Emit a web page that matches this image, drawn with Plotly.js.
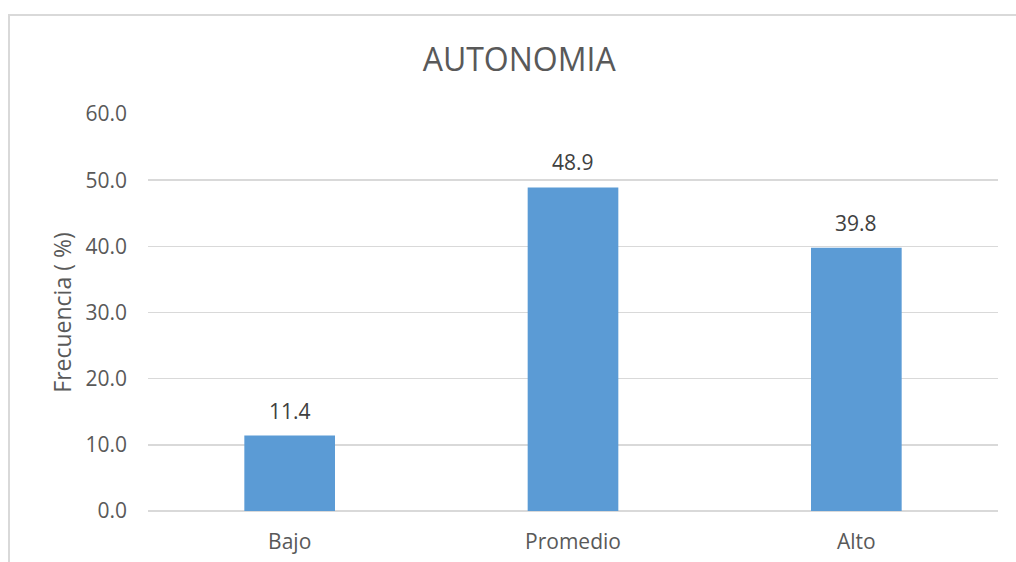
<!DOCTYPE html>
<html>
<head>
<meta charset="utf-8">
<script src="https://cdn.plot.ly/plotly-3.0.1.min.js"></script>
<style>
  html, body { margin: 0; padding: 0; background: #ffffff; overflow: hidden; }
  #frame { position: absolute; left: 8px; top: 14px; width: 1100px; height: 700px; border: 2px solid #d9d9d9; box-sizing: border-box; }
  #chart { position: absolute; left: 0; top: 0; width: 1016px; height: 562px; }
</style>
</head>
<body>
<div id="frame"></div>
<div id="chart"></div>
<script>
const categories = ["Bajo", "Promedio", "Alto"];
const frecuencia = [11.4, 48.9, 39.8];
const yTicks = [0, 10, 20, 30, 40, 50, 60];

const trace = {
  type: "bar",
  x: categories,
  y: frecuencia,
  marker: { color: "#5b9bd5" },
  hoverinfo: "none"
};

const labels = categories.map((c, i) => ({
  x: c,
  y: frecuencia[i],
  xref: "x",
  yref: "y",
  text: frecuencia[i].toFixed(1),
  showarrow: false,
  yanchor: "bottom",
  yshift: 9,
  font: { family: "Open Sans, sans-serif", size: 21, color: "#404040" }
}));

const layout = {
  width: 1016,
  height: 562,
  paper_bgcolor: "rgba(0,0,0,0)",
  plot_bgcolor: "rgba(0,0,0,0)",
  margin: { l: 148, r: 18, t: 114, b: 51 },
  bargap: 0.68,
  showlegend: false,
  font: { family: "Open Sans, sans-serif", color: "#595959" },
  title: {
    text: "AUTONOMIA",
    font: { family: "Open Sans, sans-serif", size: 32, color: "#595959" },
    x: 0.511, xanchor: "center",
    y: 0.893, yanchor: "middle", yref: "container"
  },
  annotations: labels,
  xaxis: {
    type: "category",
    tickfont: { size: 21, color: "#595959" },
    showgrid: false,
    showline: false,
    ticks: "",
    ticklabelstandoff: 16,
    fixedrange: true
  },
  yaxis: {
    range: [0, 60],
    tickvals: yTicks,
    ticktext: yTicks.map(v => v.toFixed(1)),
    tickfont: { size: 21, color: "#595959" },
    showgrid: true,
    gridcolor: "#d9d9d9",
    gridwidth: 1.5,
    zeroline: true,
    zerolinecolor: "#d9d9d9",
    zerolinewidth: 1.5,
    showline: false,
    ticks: "",
    ticklabelstandoff: 20,
    title: {
      text: "Frecuencia ( %)",
      font: { size: 23, color: "#595959" },
      standoff: 7
    },
    fixedrange: true
  }
};

Plotly.newPlot("chart", [trace], layout, { displayModeBar: false, staticPlot: true });
</script>
</body>
</html>
